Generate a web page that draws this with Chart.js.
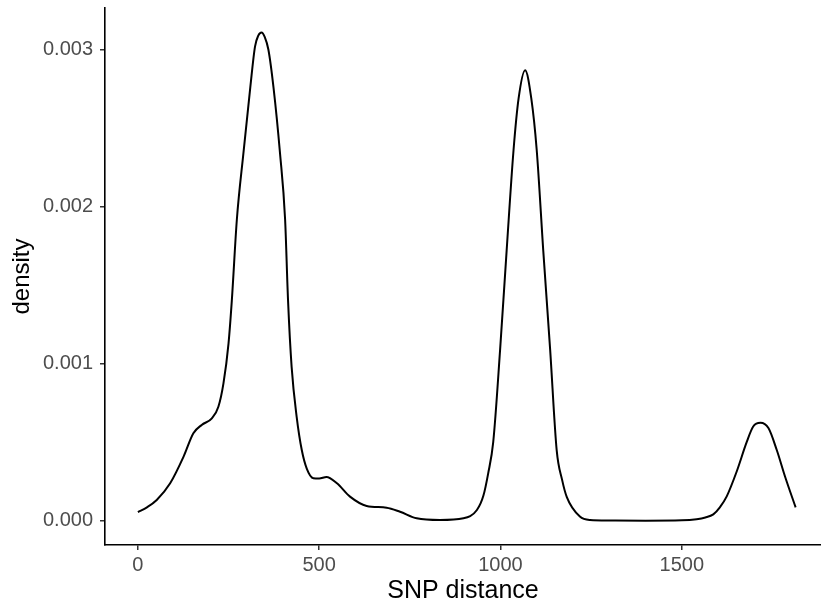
<!DOCTYPE html>
<html>
<head>
<meta charset="utf-8">
<script src="https://cdn.jsdelivr.net/npm/chart.js@4"></script>
<style>
html, body { margin: 0; padding: 0; background: #fff; overflow: hidden; }
#wrap { width: 821px; height: 606px; }
</style>
</head>
<body>
<div id="wrap"><canvas id="density"></canvas></div>
<script>
// SNP distance vs density
var distance = [0, 25, 52, 89, 126, 153, 176, 204, 222, 236, 250, 259, 273, 291, 310, 323, 332, 341, 350, 360, 374, 392, 406, 414, 424, 438, 452, 466, 484, 500, 520, 549, 585, 631, 686, 723, 769, 833, 898, 935, 953, 966, 980, 999, 1017, 1036, 1050, 1068, 1085, 1100, 1118, 1137, 1155, 1170, 1183, 1219, 1247, 1300, 1400, 1500, 1541, 1565, 1587, 1605, 1624, 1651, 1679, 1697, 1717, 1739, 1762, 1785, 1814];
var density = [0.000055, 0.000085, 0.000132, 0.000238, 0.000408, 0.000557, 0.000610, 0.000652, 0.000726, 0.000875, 0.00113, 0.00140, 0.00192, 0.00234, 0.00276, 0.00302, 0.00309, 0.00311, 0.00308, 0.00300, 0.00276, 0.00234, 0.00192, 0.00141, 0.00098, 0.00066, 0.00045, 0.00033, 0.00027, 0.000268, 0.000278, 0.000238, 0.000153, 0.000094, 0.000083, 0.000057, 0.000015, 0.000004, 0.000015, 0.000068, 0.00016, 0.00030, 0.00050, 0.00109, 0.00172, 0.00236, 0.00269, 0.00287, 0.00269, 0.00236, 0.00172, 0.00109, 0.00045, 0.00026, 0.00015, 0.000026, 0.000004, 0.000001, 0, 0.000002, 0.000009, 0.000020, 0.000040, 0.000085, 0.000155, 0.00031, 0.00050, 0.00060, 0.000624, 0.00059, 0.00045, 0.00028, 0.000085];
var xTicks = [0, 500, 1000, 1500];
var yTicks = [0, 0.001, 0.002, 0.003];

var points = [];
for (var i = 0; i < distance.length; i++) {
	points.push({ x: distance[i], y: density[i] });
}

var tickColor = '#4d4d4d';
var fontFamily = 'Liberation Sans, Arial, sans-serif';
var ctx = document.getElementById('density').getContext('2d');
window.DensityChart = new Chart(ctx, {
	type: 'scatter',
	data: {
		datasets: [{
			label: 'density',
			data: points,
			showLine: true,
			borderColor: '#000',
			borderWidth: 2,
			pointRadius: 0,
			cubicInterpolationMode: 'monotone',
			fill: false
		}]
	},
	options: {
		responsive: true,
		maintainAspectRatio: false,
		animation: false,
		layout: { padding: { top: 8, right: 0, left: 0, bottom: 0 } },
		plugins: {
			legend: { display: false },
			tooltip: { enabled: false }
		},
		scales: {
			x: {
				type: 'linear',
				min: -90.7,
				max: 1884,
				afterBuildTicks: function (scale) {
					scale.ticks = xTicks.map(function (v) { return { value: v }; });
				},
				afterFit: function (scale) {
					scale.height = 61;
					scale.paddingLeft = 0;
					scale.paddingRight = 0;
				},
				grid: { display: true, drawOnChartArea: false, drawTicks: true, tickLength: 5, color: '#333', lineWidth: 1.5 },
				border: { display: true, color: '#000', width: 1.6 },
				ticks: {
					color: tickColor,
					padding: 3,
					maxRotation: 0,
					font: { family: fontFamily, size: 20 },
					callback: function (v) { return String(v); }
				},
				title: {
					display: true,
					text: 'SNP distance',
					color: '#000',
					padding: { top: 0, bottom: 0 },
					font: { family: fontFamily, size: 25 }
				}
			},
			y: {
				type: 'linear',
				min: -0.000155,
				max: 0.003266,
				afterBuildTicks: function (scale) {
					scale.ticks = yTicks.map(function (v) { return { value: v }; });
				},
				afterFit: function (scale) {
					scale.width = 105;
					scale.paddingTop = 0;
					scale.paddingBottom = 0;
				},
				grid: { display: true, drawOnChartArea: false, drawTicks: true, tickLength: 5, color: '#333', lineWidth: 1.5 },
				border: { display: true, color: '#000', width: 1.6 },
				ticks: {
					color: tickColor,
					padding: 7,
					font: { family: fontFamily, size: 20 },
					callback: function (v) { return v.toFixed(3); }
				},
				title: {
					display: true,
					text: 'density',
					color: '#000',
					padding: { top: 8, bottom: 0 },
					font: { family: fontFamily, size: 24 }
				}
			}
		}
	}
});
</script>
</body>
</html>
